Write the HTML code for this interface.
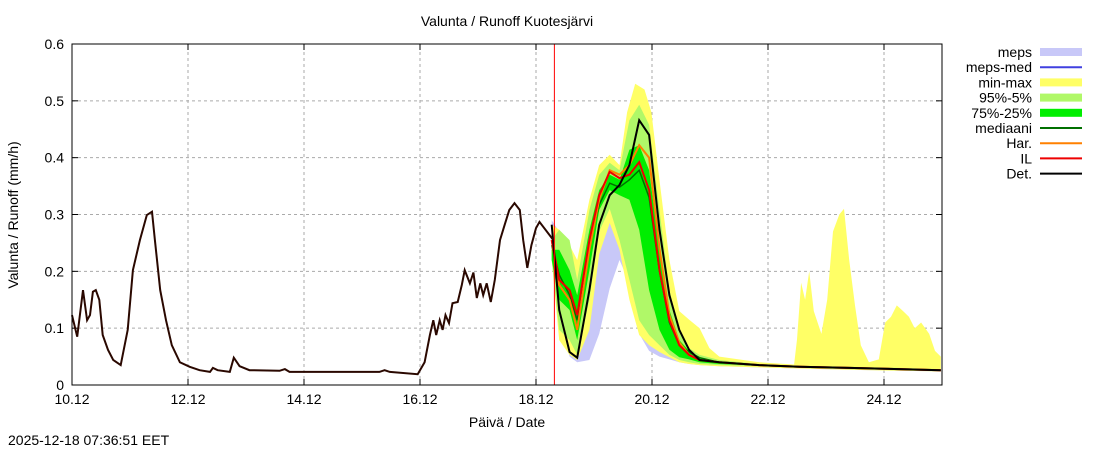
<!DOCTYPE html>
<html><head><meta charset="utf-8"><style>
body{margin:0;background:#fff;font-family:"Liberation Sans",sans-serif;}
svg text{font-family:"Liberation Sans",sans-serif;font-size:14px;fill:#000;}
</style></head><body>
<svg id="c" width="1100" height="450" xmlns="http://www.w3.org/2000/svg"></svg>
<script>
const obsT=[0,0.09,0.19,0.26,0.31,0.36,0.41,0.47,0.53,0.62,0.71,0.84,0.96,1.05,1.17,1.29,1.38,1.43,1.52,1.62,1.72,1.86,2.03,2.20,2.38,2.43,2.51,2.72,2.79,2.89,3.06,3.58,3.67,3.75,5.30,5.39,5.48,5.96,6.08,6.17,6.23,6.28,6.34,6.39,6.44,6.50,6.56,6.65,6.72,6.77,6.86,6.92,6.98,7.04,7.09,7.15,7.22,7.29,7.38,7.46,7.54,7.63,7.72,7.78,7.85,7.92,8.00,8.06,8.30];
const obsV=[0.123,0.085,0.167,0.114,0.123,0.164,0.167,0.150,0.088,0.062,0.044,0.035,0.097,0.202,0.255,0.299,0.305,0.255,0.167,0.114,0.070,0.040,0.032,0.026,0.023,0.030,0.026,0.023,0.048,0.033,0.026,0.025,0.028,0.023,0.023,0.026,0.023,0.019,0.040,0.088,0.114,0.088,0.114,0.097,0.123,0.109,0.144,0.146,0.176,0.202,0.179,0.198,0.153,0.179,0.158,0.179,0.146,0.185,0.255,0.282,0.308,0.320,0.308,0.255,0.206,0.246,0.276,0.287,0.255];
const fT=[8.27,8.40,8.58,8.71,8.92,9.09,9.27,9.44,9.61,9.78,9.95,10.13,10.30,10.47,10.64,10.82,11.16,11.85,12.54,13.40,14.26,14.98];
const detV=[0.282,0.132,0.058,0.048,0.167,0.282,0.334,0.352,0.387,0.466,0.440,0.273,0.158,0.097,0.062,0.044,0.040,0.035,0.032,0.030,0.028,0.026];
const ilV=[0.255,0.185,0.167,0.123,0.255,0.334,0.375,0.364,0.370,0.392,0.343,0.202,0.114,0.070,0.053,0.044,0.040,0.035,0.032,0.030,0.028,0.026];
const harV=[0.255,0.176,0.150,0.097,0.238,0.326,0.378,0.370,0.387,0.422,0.400,0.240,0.123,0.075,0.053,0.044,0.040,0.035,0.032,0.030,0.028,0.026];
const medV=[0.246,0.194,0.158,0.114,0.246,0.317,0.355,0.348,0.361,0.378,0.330,0.200,0.110,0.070,0.058,0.048,0.040,0.035,0.032,0.030,0.028,0.026];
const p75V=[0.238,0.238,0.202,0.158,0.273,0.343,0.370,0.361,0.414,0.422,0.378,0.238,0.132,0.079,0.060,0.048,0.040,0.035,0.032,0.030,0.028,0.026];
const p25V=[0.220,0.150,0.132,0.079,0.202,0.308,0.343,0.334,0.326,0.273,0.167,0.097,0.062,0.049,0.045,0.040,0.037,0.034,0.031,0.029,0.027,0.025];
const p95V=[0.255,0.273,0.255,0.185,0.308,0.370,0.391,0.378,0.466,0.493,0.458,0.308,0.167,0.097,0.065,0.053,0.044,0.037,0.034,0.032,0.030,0.028];
const p5V=[0.220,0.097,0.079,0.053,0.150,0.270,0.310,0.255,0.185,0.114,0.088,0.070,0.053,0.044,0.040,0.037,0.035,0.033,0.030,0.028,0.026,0.024];
const minV=[0.220,0.079,0.053,0.044,0.097,0.230,0.285,0.238,0.150,0.088,0.070,0.058,0.049,0.040,0.037,0.035,0.033,0.031,0.029,0.027,0.025,0.024];
const mepsLoV=[0.238,0.110,0.050,0.040,0.044,0.090,0.170,0.220,0.180,0.090,0.060,0.050,0.045,0.040,0.037,0.035,0.033,0.031,0.029,0.027,0.025,0.024];
const mepsHiV=[0.290,0.270,0.200,0.120,0.200,0.300,0.340,0.350,0.350,0.300,0.200,0.100,0.060,0.050,0.045,0.040,0.037,0.034,0.031,0.029,0.027,0.025];
const maxT=[8.27,8.40,8.58,8.71,8.92,9.09,9.27,9.44,9.57,9.71,9.87,9.99,10.13,10.30,10.47,10.64,10.82,10.99,11.16,11.85,12.45,12.50,12.57,12.64,12.71,12.79,12.92,13.02,13.12,13.23,13.31,13.40,13.50,13.60,13.74,13.91,14.02,14.12,14.22,14.33,14.43,14.53,14.64,14.78,14.88,14.98];
const maxV=[0.282,0.273,0.246,0.220,0.326,0.387,0.405,0.387,0.480,0.530,0.520,0.480,0.360,0.220,0.130,0.115,0.100,0.065,0.050,0.040,0.036,0.080,0.180,0.150,0.200,0.130,0.090,0.150,0.270,0.300,0.310,0.220,0.140,0.070,0.040,0.045,0.110,0.120,0.140,0.130,0.120,0.100,0.110,0.090,0.060,0.050];
const yTicks=[0,0.1,0.2,0.3,0.4,0.5,0.6];
const xTicks=[0,2,4,6,8,10,12,14];
const xLabels=["10.12","12.12","14.12","16.12","18.12","20.12","22.12","24.12"];
const nowT=8.317;

const X0=72,X1=942,Y0=385,Y1=44,TMAX=15,VMAX=0.6;
const xs=t=>X0+(X1-X0)*t/TMAX, ys=v=>Y0-(Y0-Y1)*v/VMAX;
const svg=document.getElementById('c');const NS='http://www.w3.org/2000/svg';
function mk(tag,at,parent){const e=document.createElementNS(NS,tag);for(const k in at)e.setAttribute(k,at[k]);(parent||svg).appendChild(e);return e;}
function line(T,V){return T.map((t,i)=>(i?'L':'M')+xs(t).toFixed(1)+','+ys(V[i]).toFixed(1)).join('');}
function band(T,lo,T2,hi){let d=T2.map((t,i)=>(i?'L':'M')+xs(t).toFixed(1)+','+ys(hi[i]).toFixed(1)).join('');for(let i=T.length-1;i>=0;i--)d+='L'+xs(T[i]).toFixed(1)+','+ys(lo[i]).toFixed(1);return d+'Z';}
yTicks.forEach((v,i)=>{
  if(v>0&&v<VMAX){const g=mk('line',{x1:X0,x2:X1,y1:ys(v),y2:ys(v),stroke:'#aaa','stroke-dasharray':'3,3','stroke-width':1});
  }
  const t=mk('text',{x:X0-8,y:ys(v)+5,'text-anchor':'end'});t.textContent=v===0?'0':String(v);
  
  mk('line',{x1:X0,x2:X0+6,y1:ys(v),y2:ys(v),stroke:'#000'});mk('line',{x1:X1,x2:X1-6,y1:ys(v),y2:ys(v),stroke:'#000'});
});
xTicks.forEach((d,i)=>{
  const g=mk('line',{x1:xs(d),x2:xs(d),y1:Y0,y2:Y1,stroke:'#aaa','stroke-dasharray':'3,3','stroke-width':1});
  
  mk('line',{x1:xs(d),x2:xs(d),y1:Y0,y2:Y0-6,stroke:'#000'});mk('line',{x1:xs(d),x2:xs(d),y1:Y1,y2:Y1+6,stroke:'#000'});
  const t=mk('text',{x:xs(d),y:Y0+19,'text-anchor':'middle'});t.textContent=xLabels[i];
  
});
function addPath(d,at,name){const p=mk('path',Object.assign({d:d},at));return p;}
addPath(band(fT,mepsLoV,fT,mepsHiV),{fill:'#c8c8f8',stroke:'none'},'meps-band');
addPath(band(fT,minV,maxT,maxV),{fill:'#ffff66',stroke:'none'},'min-max-band');
addPath(band(fT,p5V,fT,p95V),{fill:'#b0f868',stroke:'none'},'p95-p5-band');
addPath(band(fT,p25V,fT,p75V),{fill:'#00ee00',stroke:'none'},'p75-p25-band');
addPath(line(fT,medV),{fill:'none',stroke:'#007000','stroke-width':1.5},'median-line');
addPath(line(fT,harV),{fill:'none',stroke:'#ff8000','stroke-width':2},'har-line');
addPath(line(fT,ilV),{fill:'none',stroke:'#ee0000','stroke-width':2},'il-line');
addPath(line(fT,detV),{fill:'none',stroke:'#000','stroke-width':2},'det-line');
addPath(line(obsT,obsV),{fill:'none',stroke:'#2a0800','stroke-width':2},'observed-line');
const nl=mk('line',{x1:xs(nowT),x2:xs(nowT),y1:Y0,y2:Y1,stroke:'#f00','stroke-width':1});

const fr=mk('rect',{x:X0,y:Y1,width:X1-X0,height:Y0-Y1,fill:'none',stroke:'#000','stroke-width':1});

const leg=[['meps','band','#c8c8f8'],['meps-med','line','#4040e0'],['min-max','band','#ffff66'],['95%-5%','band','#b0f868'],['75%-25%','band','#00ee00'],['mediaani','line','#007000'],['Har.','line','#ff8000'],['IL','line','#ee0000'],['Det.','line','#000']];
leg.forEach((l,i)=>{const y=52+i*15.2;
  const g=mk('g',{});
  const t=mk('text',{x:1032,y:y+5,'text-anchor':'end'},g);t.textContent=l[0];
  if(l[1]==='band')mk('rect',{x:1040,y:y-4,width:42,height:8,fill:l[2]},g);
  else mk('line',{x1:1040,x2:1082,y1:y,y2:y,stroke:l[2],'stroke-width':2},g);
});
function txt(x,y,s,name,extra){const t=mk('text',Object.assign({x:x,y:y},extra||{}));t.textContent=s;return t;}
txt(507,26,'Valunta / Runoff  Kuotesjärvi','chart-title',{'text-anchor':'middle'});
txt(507,427,'Päivä / Date','x-axis-title',{'text-anchor':'middle'});
txt(18,215,'Valunta / Runoff (mm/h)','y-axis-title',{'text-anchor':'middle',transform:'rotate(-90 18 215)'});
txt(8,445,'2025-12-18 07:36:51 EET','timestamp');
</script>
</body></html>
